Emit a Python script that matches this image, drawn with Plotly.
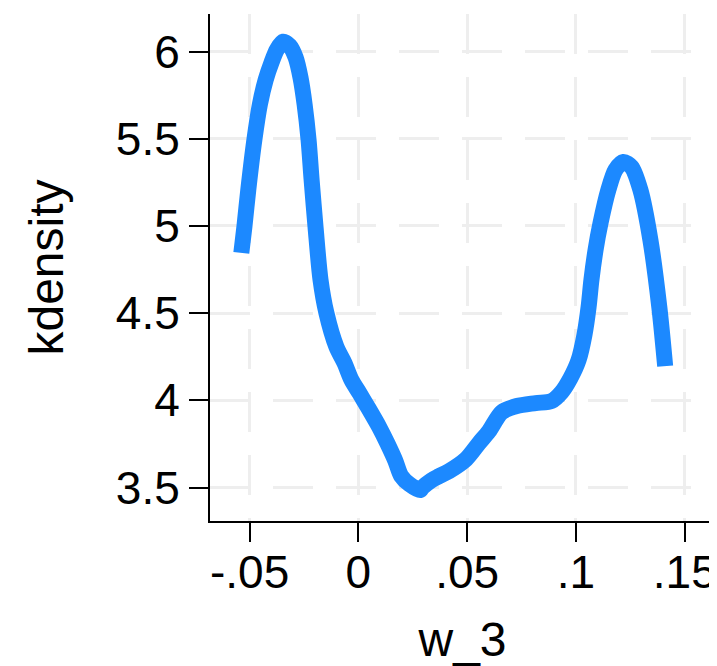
import plotly.graph_objects as go

# kernel density estimate of w_3
w_3 = [-0.0538, -0.0524, -0.0506, -0.0478, -0.0453, -0.0426, -0.0398, -0.0375,
       -0.0346, -0.0316, -0.0288, -0.0266, -0.0247, -0.0229, -0.0215, -0.0197,
       -0.0174, -0.0147, -0.0101, -0.0064, -0.0032, 0.0005, 0.0046, 0.0096,
       0.0133, 0.0169, 0.0197, 0.0234, 0.0284, 0.0293, 0.0334, 0.0371, 0.0417,
       0.0495, 0.0554, 0.0600, 0.0659, 0.0728, 0.0815, 0.0888, 0.0934, 0.0975,
       0.1012, 0.1039, 0.1058, 0.1071, 0.1090, 0.1113, 0.1149, 0.1181, 0.1218,
       0.1255, 0.1296, 0.1342, 0.1383, 0.1410]
kdensity = [4.845, 4.994, 5.207, 5.494, 5.695, 5.838, 5.941, 6.010,
            6.056, 6.033, 5.964, 5.850, 5.695, 5.494, 5.264, 4.994,
            4.690, 4.501, 4.306, 4.214, 4.117, 4.041, 3.955, 3.846,
            3.754, 3.656, 3.565, 3.519, 3.485, 3.499, 3.540, 3.565, 3.594,
            3.663, 3.754, 3.823, 3.932, 3.967, 3.984, 3.996, 4.047, 4.128,
            4.231, 4.375, 4.535, 4.690, 4.862, 5.017, 5.207, 5.321, 5.367,
            5.339, 5.207, 4.920, 4.535, 4.196]

x_ticks = [-0.05, 0, 0.05, 0.1, 0.15]
x_tick_labels = ["-.05", "0", ".05", ".1", ".15"]
y_ticks = [3.5, 4, 4.5, 5, 5.5, 6]
y_tick_labels = ["3.5", "4", "4.5", "5", "5.5", "6"]

FONT = "Liberation Sans, Arial, Helvetica, sans-serif"

fig = go.Figure()
fig.add_trace(go.Scatter(
    x=w_3, y=kdensity, mode="lines",
    line=dict(color="rgb(28,137,255)", width=16, shape="spline", smoothing=0.8),
    showlegend=False, hoverinfo="skip",
))

axis_common = dict(
    showline=True, linecolor="black", linewidth=2,
    ticks="outside", ticklen=19, tickwidth=2, tickcolor="black",
    showgrid=True, gridcolor="rgb(238,238,238)", gridwidth=3,
    griddash="40px,23px", zeroline=False,
    tickfont=dict(family=FONT, size=46, color="black"),
    ticklabeloverflow="allow",
)

# the page body has an 8px margin, so the figure is sized to end at the window edge
fig.update_layout(
    width=709, height=658,
    margin=dict(l=202, r=0, t=6, b=145),
    paper_bgcolor="white", plot_bgcolor="white",
    font=dict(family=FONT, color="black"),
    xaxis=dict(
        range=[-0.0682, 0.1639], tickvals=x_ticks, ticktext=x_tick_labels,
        ticklabelstandoff=-9,
        title=dict(text="w_3", font=dict(family=FONT, size=48), standoff=26),
        **axis_common,
    ),
    yaxis=dict(
        range=[3.308, 6.215], tickvals=y_ticks, ticktext=y_tick_labels,
        title=dict(text="kdensity", font=dict(family=FONT, size=48), standoff=37),
        **axis_common,
    ),
)

fig.write_html("out.html")
